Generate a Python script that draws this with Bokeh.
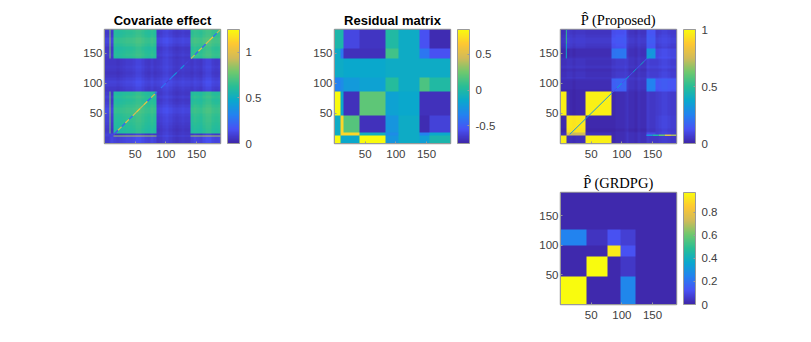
import numpy as np
from bokeh.plotting import figure
from bokeh.layouts import column, row
from bokeh.models import LinearColorMapper, ColorBar, FixedTicker, Spacer, ColumnDataSource
from bokeh.embed import file_html
from bokeh.resources import INLINE

# ---- data ----
N = 189
tick_values = [50, 100, 150]

cov_cols = [0, 8, 10, 14, 85, 140, 189]
cov_rows = [0, 12, 14, 16, 86, 141, 189]
cov_vals = [
    [.08, .10, .12, .10, .06, .10],
    [.10, .10, .10, .85, .10, .85],
    [.10, .10, .12, .06, .06, .06],
    [.08, .80, .06, .60, .06, .60],
    [.06, .06, .06, .06, .07, .06],
    [.06, .80, .06, .60, .06, .62],
]
cov_profile = [.00, .00, .00, .00, -.01, .00, .01, .02, .02, .03, .05, .05, .03, .01, .00, .02, .00, .00,
               .01, .03, .04, .02, .00, -.01, .00, .01, .00, .00, .00, .02, .01, .00, .03, .05, .05, .02, .01, .02]
cov_diag_x = [15, 22, 28, 34, 40, 46, 52, 58, 64, 70, 76, 82, 86, 92, 100, 106, 112, 118, 124, 130, 136, 141, 147, 153,
              159, 165, 171, 177, 183, 189]
cov_diag_v = [.15, .95, .2, 1.0, .25, .95, 1.05, .9, 1.05, .2, .95, .2, .08, .25, .1, .3, .4, .1, .4, .1, .08, .9,
              .2, 1.0, .2, .95, 1.05, .25, .9]

res_cols = [0, 9, 14, 41, 83, 105, 139, 154, 189]
res_rows = [0, 13, 18, 46, 86, 109, 141, 157, 189]
res_vals = [
    [.85, -.15, -.15, .85, -.25, -.12, -.20, -.03],
    [-.12, .70, .70, -.10, -.30, -.12, -.35, -.14],
    [-.12, .70, .18, -.70, -.25, -.12, -.72, -.62],
    [.85, -.15, -.70, .20, -.18, -.15, -.70, -.70],
    [-.35, -.30, -.22, -.18, .03, -.12, .15, .00],
    [-.12, -.12, -.15, -.15, -.12, -.12, -.12, -.12],
    [-.12, -.40, -.70, -.70, .12, -.12, -.40, -.55],
    [-.02, -.02, -.60, -.68, .00, -.12, -.55, -.72],
]
res_ticks = [-.5, 0, .5]

pro_cols = [0, 9, 14, 41, 83, 107, 140, 154, 189]
pro_rows = [0, 13, 18, 46, 86, 108, 141, 157, 189]
pro_vals = [
    [.97, .03, .03, .97, .01, .03, .05, .05],
    [.03, .80, .75, .03, .01, .03, .10, .07],
    [.01, .95, .95, .01, .01, .02, .05, .07],
    [.97, .03, .01, .97, .01, .02, .05, .06],
    [.01, .01, .01, .01, .15, .03, .24, .12],
    [.03, .04, .04, .03, .05, .04, .07, .07],
    [.01, .01, .02, .02, .21, .03, .31, .09],
    [.03, .06, .05, .04, .11, .04, .13, .06],
]
pro_profile = [.00, .00, .00, .00, -.01, .00, .00, .00, .00, .00, .00, .00, .00, .00, .00, .00, .00, .00,
               .01, .01, .01, .02, .00, .00, -.01, .01, .00, .00, .01, .00, .00, .00, .01, .02, .02, .01, .00, .00]
pro_diag_x = [15, 40, 84, 92, 100, 106, 112, 118, 124, 130, 136, 141, 147, 153]
pro_diag_v = [.32, .32, .12, .35, .12, .35, .12, .35, .12, .4, .15, .4, .35]
pro_line_x = [140, 150, 160, 170, 180, 189]
pro_line_v = [.3, .45, .6, .8, .7]
pro_vline_y = [141, 165, 189]
pro_vline_v = [.4, .5]

grd_cols = [0, 43, 76, 97, 122, 189]
grd_rows = [0, 48, 81, 100, 126, 189]
grd_vals = [
    [.97, .01, .01, .26, .01],
    [.01, .97, .01, .05, .01],
    [.01, .01, .93, .12, .01],
    [.25, .04, .12, .07, .01],
    [.01, .01, .01, .01, .01],
]

# ---- colormap (parula anchors) ----
anchors = np.array([[62, 38, 168], [72, 82, 244], [35, 130, 240], [10, 168, 205], [40, 190, 150],
                    [110, 200, 110], [209, 187, 89], [254, 200, 50], [249, 251, 14]], dtype=float)
t = np.linspace(0, 1, 256)
pos = np.linspace(0, 1, 9)
parula = ["#%02x%02x%02x" % tuple(int(round(np.interp(s, pos, anchors[:, c]))) for c in range(3)) for s in t]

GRAY = "#9a9a9a"
TXT = "#404040"


def build(cols, rows, vals, profile=None):
    arr = np.zeros((N, N))
    for i in range(len(rows) - 1):
        for j in range(len(cols) - 1):
            arr[rows[i]:rows[i + 1], cols[j]:cols[j + 1]] = vals[i][j]
    if profile is not None:
        prof = np.repeat(np.array(profile), 5)[:N]
        arr = arr + prof[:, None] + prof[None, :]
    return arr


def panel(arr, low, high, ticks, title, serif=False, top=29, bottom=25, fh=114):
    mapper = LinearColorMapper(palette=parula, low=low, high=high)
    p = figure(frame_width=116, frame_height=fh, x_range=(0, N), y_range=(0, N), output_backend="svg",
               toolbar_location=None, min_border_left=30, min_border_right=2, min_border_top=top,
               min_border_bottom=bottom, title=title)
    p.image(image=[arr], x=0, y=0, dw=N, dh=N, color_mapper=mapper)
    p.grid.visible = False
    p.outline_line_color = GRAY
    p.outline_line_width = 1.5
    p.title.align = "center"
    p.title.text_color = "#000000"
    p.title.standoff = 3
    p.title.offset = 0
    if serif:
        p.title.text_font = "Liberation Serif"
        p.title.text_font_style = "normal"
        p.title.text_font_size = "14.5px"
    else:
        p.title.text_font = "Liberation Sans"
        p.title.text_font_style = "bold"
        p.title.text_font_size = "13px"
    for ax in (p.xaxis[0], p.yaxis[0]):
        ax.ticker = FixedTicker(ticks=tick_values)
        ax.major_tick_in = 2
        ax.major_tick_out = 0
        ax.minor_tick_line_color = None
        ax.axis_line_color = GRAY
        ax.major_tick_line_color = GRAY
        ax.major_label_text_font = "Liberation Sans"
        ax.major_label_text_font_size = "11.5px"
        ax.major_label_text_color = TXT
    p.xaxis[0].major_label_standoff = 6
    p.yaxis[0].major_label_standoff = 2
    cb = ColorBar(color_mapper=mapper, ticker=FixedTicker(ticks=ticks), width=12, height=fh, location=(7, 0),
                  padding=0, margin=0, major_label_text_font="Liberation Sans", major_label_text_font_size="11.5px",
                  major_label_text_color=TXT, major_tick_line_color=GRAY, major_tick_in=2, major_tick_out=0,
                  bar_line_color=GRAY, bar_line_width=1, label_standoff=6, background_fill_alpha=0,
                  border_line_color=None, major_label_overrides={-0.5: "-0.5"})
    p.add_layout(cb, "right")
    return p, mapper


def add_steps(p, mapper, x0, y0, x1, y1, vs, width=1.0):
    src = ColumnDataSource(dict(x0=x0, y0=y0, x1=x1, y1=y1, v=vs))
    p.segment("x0", "y0", "x1", "y1", source=src, line_width=width, line_color={"field": "v", "transform": mapper})


p1, m1 = panel(build(cov_cols, cov_rows, cov_vals, cov_profile), 0, 1.25, [0, .5, 1], "Covariate effect")
add_steps(p1, m1, cov_diag_x[:-1], cov_diag_x[:-1], cov_diag_x[1:], cov_diag_x[1:], cov_diag_v, 1.2)
p2, m2 = panel(build(res_cols, res_rows, res_vals), -.75, .85, res_ticks, "Residual matrix")
p3, m3 = panel(build(pro_cols, pro_rows, pro_vals, pro_profile), 0, 1, [0, .5, 1], "P\u0302 (Proposed)", serif=True)
add_steps(p3, m3, pro_diag_x[:-1], pro_diag_x[:-1], pro_diag_x[1:], pro_diag_x[1:], pro_diag_v)
add_steps(p3, m3, pro_line_x[:-1], [13.5] * len(pro_line_v), pro_line_x[1:], [13.5] * len(pro_line_v), pro_line_v, 1.5)
add_steps(p3, m3, [9.5] * len(pro_vline_v), pro_vline_y[:-1], [9.5] * len(pro_vline_v), pro_vline_y[1:], pro_vline_v)
p4, m4 = panel(build(grd_cols, grd_rows, grd_vals), 0, .97, [0, .2, .4, .6, .8], "P\u0302 (GRDPG)", serif=True,
               top=24, bottom=26, fh=112)

top_row = row(Spacer(width=74), p1, Spacer(width=40), p2, Spacer(width=32), p3)
bottom_row = row(Spacer(width=530), p4)
layout = column(top_row, bottom_row)
open("out.html", "w").write(file_html(layout, INLINE))
